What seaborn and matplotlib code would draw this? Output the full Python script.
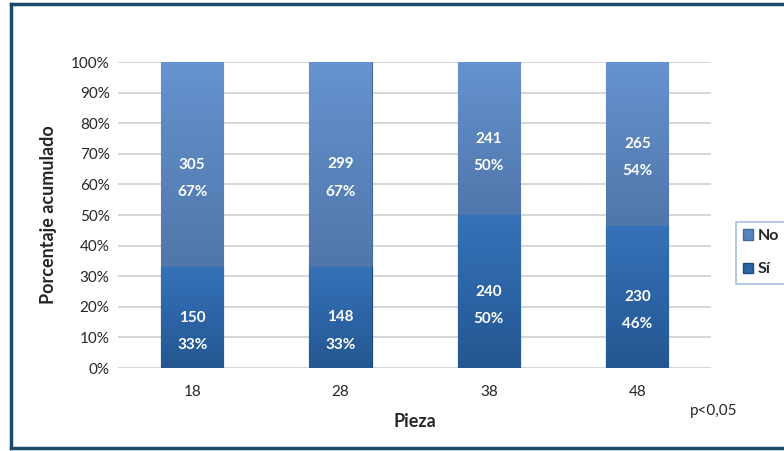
import matplotlib
matplotlib.use("Agg")
import matplotlib.pyplot as plt
import seaborn as sns
import pandas as pd
import numpy as np
from matplotlib.lines import Line2D
from matplotlib.patches import Patch
from matplotlib.colors import LinearSegmentedColormap

piezas = ["18", "28", "38", "48"]
si_n = [150, 148, 240, 230]
no_n = [305, 299, 241, 265]
si_pct = [33, 33, 50, 46]
no_pct = [67, 67, 50, 54]
y_ticks = [0, 10, 20, 30, 40, 50, 60, 70, 80, 90, 100]

sns.set_theme(style="white")
plt.rcParams["font.family"] = ["Lato", "DejaVu Sans"]

si_share = [100 * s / (s + n) for s, n in zip(si_n, no_n)]
df = pd.DataFrame({"Pieza": piezas, "total": [100] * 4, "si": si_share})

fig = plt.figure(figsize=(7.84, 4.51), dpi=100)
ax = fig.add_axes([0.1505, 0.184, 0.757, 0.6785])

c_no = "#5A84BC"
c_si = "#2C64A6"
sns.barplot(data=df, x="Pieza", y="total", color=c_no, width=0.42, ax=ax,
            saturation=1, edgecolor="#46699A", linewidth=0.8, zorder=3)
n_no = len(ax.patches)
sns.barplot(data=df, x="Pieza", y="si", color=c_si, width=0.42, ax=ax,
            saturation=1, edgecolor="#1E4A7E", linewidth=0.8, zorder=4)

# vertical gradient shading clipped to each bar
cm_no = LinearSegmentedColormap.from_list("no", ["#5077AB", "#5A84BC", "#6594D0"])
cm_si = LinearSegmentedColormap.from_list("si", ["#245790", "#2C64A6", "#3672B8"])
grad = np.linspace(0, 1, 256).reshape(-1, 1)
for k, p in enumerate(ax.patches):
    x0, y0 = p.get_x(), p.get_y()
    w, h = p.get_width(), p.get_height()
    if k < n_no:
        cm, z = cm_no, 3.5
        ext = (x0, x0 + w, si_share[k], y0 + h)
    else:
        cm, z = cm_si, 4.5
        ext = (x0, x0 + w, y0, y0 + h)
    im = ax.imshow(grad, cmap=cm, extent=ext, origin="lower", aspect="auto",
                   zorder=z, interpolation="bilinear")
    im.set_clip_path(p)

ax.set_ylim(0, 100)
ax.set_xlim(-0.5, 3.5)
ax.set_yticks(y_ticks)
ax.set_yticklabels([f"{v}%" for v in y_ticks], fontsize=11)
ax.tick_params(axis="x", labelsize=11, pad=12)
ax.tick_params(axis="y", pad=6)
ax.tick_params(length=0)
ax.yaxis.grid(True, color="#D0D0D0", linewidth=1.2, zorder=0)
ax.set_axisbelow(True)
for s in ax.spines.values():
    s.set_visible(False)

ax.set_ylabel("Porcentaje acumulado", fontsize=13, fontweight="bold", labelpad=10)
ax.set_xlabel("Pieza", fontsize=13, fontweight="bold", labelpad=10)

for i in range(4):
    sh = si_share[i]
    yc = sh / 2
    ax.text(i, yc, str(si_n[i]), ha="center", va="center", color="white",
            fontsize=11, fontweight="bold", zorder=6)
    ax.text(i, yc - 9, f"{si_pct[i]}%", ha="center", va="center", color="white",
            fontsize=11, fontweight="bold", zorder=6)
    yc2 = sh + (100 - sh) / 2
    ax.text(i, yc2, str(no_n[i]), ha="center", va="center", color="white",
            fontsize=11, fontweight="bold", zorder=6)
    ax.text(i, yc2 - 9, f"{no_pct[i]}%", ha="center", va="center", color="white",
            fontsize=11, fontweight="bold", zorder=6)

handles = [Patch(facecolor=c_no, edgecolor="#46699A"), Patch(facecolor=c_si, edgecolor="#1E4A7E")]
leg = fig.legend(handles, ["No", "Sí"], loc="upper left",
                 bbox_to_anchor=(728 / 784, 1 - 214 / 451), frameon=True,
                 fancybox=False, handlelength=0.6, handleheight=0.6,
                 handletextpad=0.3, labelspacing=1.2, borderpad=0.45,
                 prop={"weight": "bold", "size": 11.5})
leg.get_frame().set_edgecolor("#8FB0D8")
leg.get_frame().set_linewidth(1.2)

fig.text(690 / 784, 1 - 411 / 451, "p<0,05", fontsize=11, va="center", ha="left")

border = "#1B4A6B"
xl = 11 / 784
fig.add_artist(Line2D([xl, xl], [3 / 451, 1 - 3.5 / 451], color=border, linewidth=2.5,
                      transform=fig.transFigure, solid_capstyle="projecting"))
fig.add_artist(Line2D([xl, 1], [1 - 3.5 / 451, 1 - 3.5 / 451], color=border, linewidth=2.5,
                      transform=fig.transFigure, solid_capstyle="projecting"))
fig.add_artist(Line2D([xl, 1], [3 / 451, 3 / 451], color=border, linewidth=2.5,
                      transform=fig.transFigure, solid_capstyle="projecting"))

fig.savefig("out.png", dpi=100)
